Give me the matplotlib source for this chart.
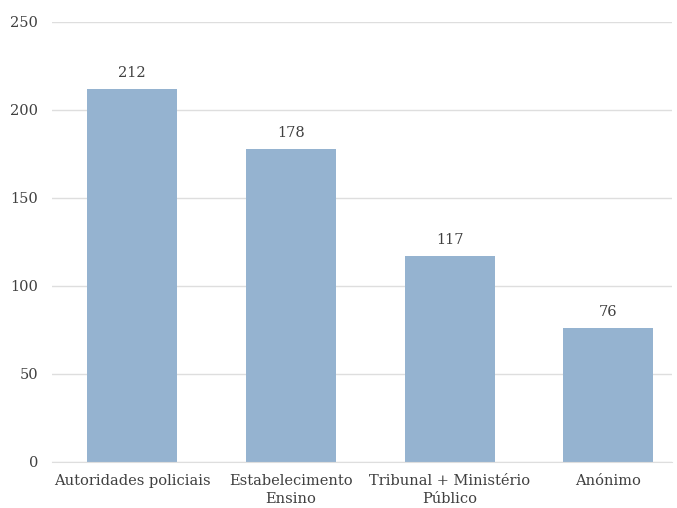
import numpy as np
import matplotlib.pyplot as plt

# data
categories = ['Autoridades policiais', 'Estabelecimento\nEnsino', 'Tribunal + Ministério\nPúblico', 'Anónimo']
values = [212, 178, 117, 76]
yticks = [0, 50, 100, 150, 200, 250]

plt.rcParams['font.family'] = ['DejaVu Serif']
txt = '#404040'

fig = plt.figure(figsize=(6.77, 5.08), dpi=100)
ax = fig.add_axes([0.0768, 0.0906, 0.9158, 0.8661])

x = np.arange(len(categories))
bars = ax.bar(x, values, width=0.567, color='#95b3d0', zorder=2)
for b, v in zip(bars, values):
    ax.text(b.get_x() + b.get_width() / 2, v + 5, str(v), ha='center', va='bottom',
            fontsize=10.5, color=txt)

ax.set_xlim(-0.504, 3.40)
ax.set_ylim(0, 250)
ax.set_yticks(yticks)
ax.set_xticks(x)
ax.set_xticklabels(categories, fontsize=10.5, color=txt, linespacing=1.35)
ax.tick_params(axis='y', length=0, pad=10, labelsize=10.5, labelcolor=txt)
ax.tick_params(axis='x', length=0, pad=9)
ax.yaxis.grid(True, color='#dedede', linewidth=1, zorder=0)
for s in ['top', 'right', 'left']:
    ax.spines[s].set_visible(False)
ax.spines['bottom'].set_color('#dedede')

fig.savefig('out.png', dpi=100)
